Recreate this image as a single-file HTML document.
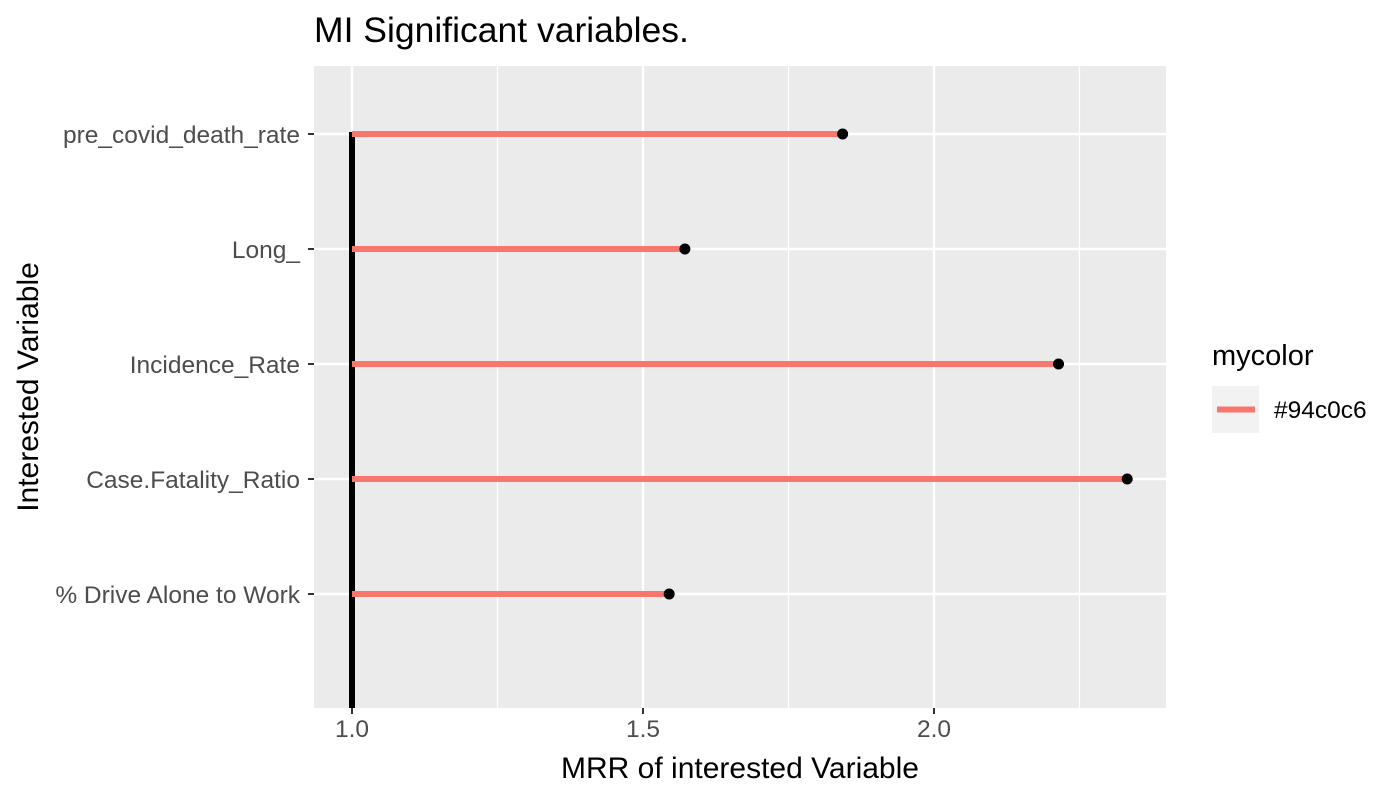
<!DOCTYPE html>
<html><head><meta charset="utf-8"><style>body{margin:0;background:#fff}svg{display:block;font-family:"Liberation Sans",sans-serif}</style></head>
<body>
<svg width="1400" height="800" viewBox="0 0 1400 800">
<text x="314" y="42" font-size="35.5" fill="#000">MI Significant variables.</text>
<rect x="314" y="66" width="852" height="642" fill="#ebebeb"/>
<g id="grid"></g>
<g id="marks"></g>
<g id="axes"></g>
<text x="740" y="778" font-size="30" text-anchor="middle" fill="#000">MRR of interested Variable</text>
<text transform="translate(38,387) rotate(-90)" font-size="30" text-anchor="middle" fill="#000">Interested Variable</text>
<g>
<text x="1212" y="365" font-size="29" fill="#000">mycolor</text>
<rect x="1212" y="386" width="47" height="47" fill="#f2f2f2"/>
<line x1="1217" y1="409.5" x2="1255" y2="409.5" stroke="#f8766d" stroke-width="6"/>
<text x="1274" y="418" font-size="24.5" fill="#000">#94c0c6</text>
</g>
</svg>
<script>
const categories=["pre_covid_death_rate","Long_","Incidence_Rate","Case.Fatality_Ratio","% Drive Alone to Work"];
const mrrValues=[1.843,1.572,2.214,2.332,1.545];
const xTicks=[1.0,1.5,2.0];
const xTickLabels=["1.0","1.5","2.0"];
const NS="http://www.w3.org/2000/svg";
const x=v=>352+(v-1)*582;
const y=i=>134+i*115;
function mk(t,a,p){const e=document.createElementNS(NS,t);for(const k in a)e.setAttribute(k,a[k]);p.appendChild(e);return e;}
const grid=document.getElementById('grid'),marks=document.getElementById('marks'),axes=document.getElementById('axes');
for(let i=0;i<xTicks.length-1;i++){const m=(xTicks[i]+xTicks[i+1])/2;const g=mk('line',{x1:x(m),x2:x(m),y1:66,y2:708,stroke:'#fff','stroke-width':1.2},grid);

}
{const m=xTicks[xTicks.length-1]+0.25;const g=mk('line',{x1:x(m),x2:x(m),y1:66,y2:708,stroke:'#fff','stroke-width':1.2},grid);

}
xTicks.forEach((t,i)=>{const g=mk('line',{x1:x(t),x2:x(t),y1:66,y2:708,stroke:'#fff','stroke-width':2.4},grid);


const tk=mk('line',{x1:x(t),x2:x(t),y1:708,y2:714,stroke:'#333','stroke-width':2},axes);


const tl=mk('text',{x:x(t),y:737,'font-size':24.5,'text-anchor':'middle',fill:'#4d4d4d'},axes);tl.textContent=xTickLabels[i];

});
categories.forEach((c,i)=>{const g=mk('line',{x1:314,x2:1166,y1:y(i),y2:y(i),stroke:'#fff','stroke-width':2.4},grid);


const tk=mk('line',{x1:308,x2:314,y1:y(i),y2:y(i),stroke:'#333','stroke-width':2},axes);


const tl=mk('text',{x:300,y:y(i)+9,'font-size':24.5,'text-anchor':'end',fill:'#4d4d4d'},axes);tl.textContent=c;

});
const vl=mk('line',{x1:x(1),x2:x(1),y1:y(0)-2,y2:708,stroke:'#000','stroke-width':6},marks);


mrrValues.forEach((v,i)=>{const s=mk('line',{x1:x(1),x2:x(v),y1:y(i),y2:y(i),stroke:'#f8766d','stroke-width':6},marks);


const p=mk('circle',{cx:x(v),cy:y(i),r:5.5,fill:'#000'},marks);

});
</script>
</body></html>
